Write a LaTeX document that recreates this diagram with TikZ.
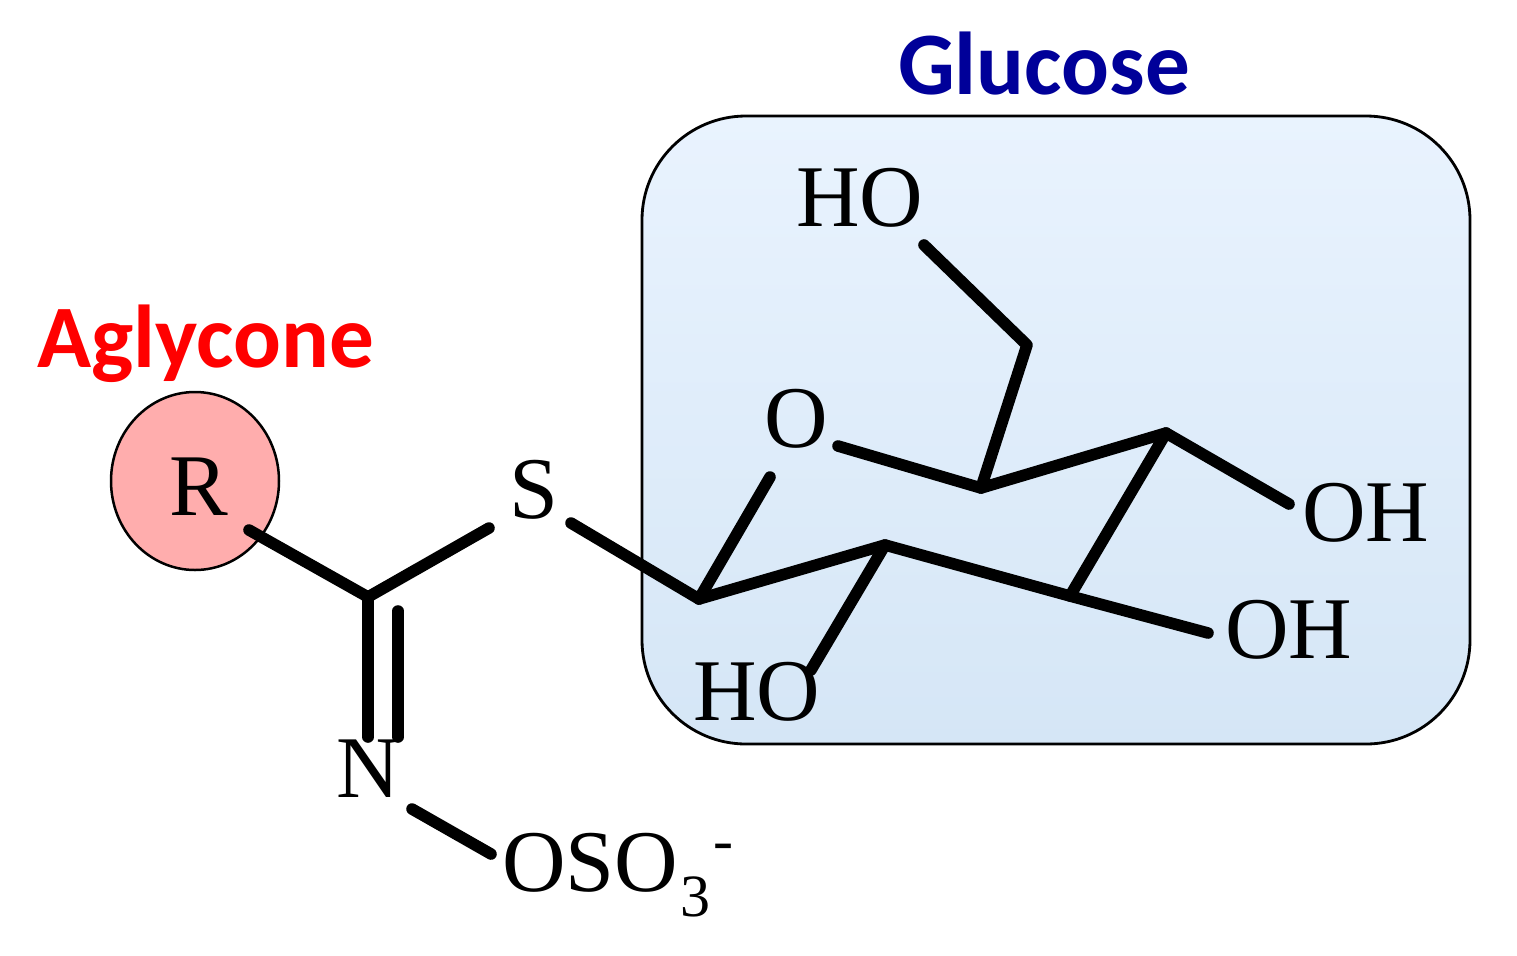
\documentclass[tikz,border=0pt]{standalone}
\usetikzlibrary{shapes.geometric}
\usepackage{fontspec}
\setmainfont{Liberation Serif}
\newfontfamily\labelfont[Ligatures=NoCommon]{Carlito}
\definecolor{boxtop}{HTML}{E9F3FE}
\definecolor{boxbot}{HTML}{D5E6F6}
\definecolor{glucblue}{HTML}{000099}
\definecolor{rfill}{HTML}{FFADAD}
\tikzset{
  atom/.style={inner sep=0pt,outer sep=0pt,font=\fontsize{44}{44}\selectfont,text=black},
  bond/.style={line width=5.8pt,line cap=round,line join=round,black},
  heading/.style={inner sep=0pt,outer sep=0pt,font=\labelfont\bfseries\fontsize{44.6}{45}\selectfont}
}
\begin{document}
\begin{tikzpicture}[x=0.5pt,y=-0.5pt]
\useasboundingbox (0,0) rectangle (1517,955);
\node[draw=black,line width=1.4pt,top color=boxtop,bottom color=boxbot,rounded corners=52pt,outer sep=0pt,
  minimum width=414pt,minimum height=314pt,inner sep=0pt,anchor=north west] (box) at (642,116) {};
\node[draw=black,line width=1.25pt,fill=rfill,ellipse,minimum width=84pt,minimum height=89pt,inner sep=0pt] (rcircle) at (195,481) {};
\node[heading,text=glucblue,anchor=base] (glucose) at (1044,94) {Glucose};
\node[heading,text=red,anchor=base] (aglycone) at (206,367) {Aglycone};
\node[atom,anchor=base] (R) at (199,515) {R};
\node[atom,anchor=base] (S) at (534,518) {S};
\node[atom,anchor=base] (N) at (368,797) {N};
\node[atom,anchor=base] (O) at (796,447) {O};
\node[atom,anchor=base west] (HOa) at (796,226) {HO};
\node[atom,anchor=base west] (OHa) at (1302,541) {OH};
\node[atom,anchor=base west] (OHb) at (1225,658) {OH};
\node[atom,anchor=base west] (HOb) at (693,720) {HO};
\node[atom,anchor=base west] (OSO) at (502,891) {OSO\kern1pt\raisebox{-12.5pt}{\fontsize{30}{30}\selectfont 3}\kern1.5pt\raisebox{15.5pt}{\fontsize{30}{30}\selectfont -}};
\coordinate (c1) at (368,597);
\coordinate (rb) at (249,530);
\coordinate (sl) at (489,528);
\coordinate (sr) at (571,523);
\coordinate (c2) at (699,599);
\coordinate (ol) at (770,477);
\coordinate (c3) at (885,545);
\coordinate (c4) at (1070,596);
\coordinate (c5) at (1166,433);
\coordinate (c6) at (981,488);
\coordinate (or) at (838,446);
\coordinate (c7) at (1027,345);
\coordinate (hoa) at (924,245);
\coordinate (oha) at (1289,504);
\coordinate (ohb) at (1208,633);
\coordinate (hob) at (811,670);
\coordinate (n1) at (368,737);
\coordinate (d1) at (398,611);
\coordinate (d2) at (398,737);
\coordinate (n2) at (412,809);
\coordinate (os) at (491,854);
\draw[bond] (rb) -- (c1) -- (sl);
\draw[bond] (sr) -- (c2) -- (c3) -- (c4) -- (ohb);
\draw[bond] (c2) -- (ol);
\draw[bond] (c3) -- (hob);
\draw[bond] (c4) -- (c5) -- (oha);
\draw[bond] (or) -- (c6) -- (c5);
\draw[bond] (c6) -- (c7) -- (hoa);
\draw[bond] (c1) -- (n1);
\draw[bond] (d1) -- (d2);
\draw[bond] (n2) -- (os);
\end{tikzpicture}
\end{document}
